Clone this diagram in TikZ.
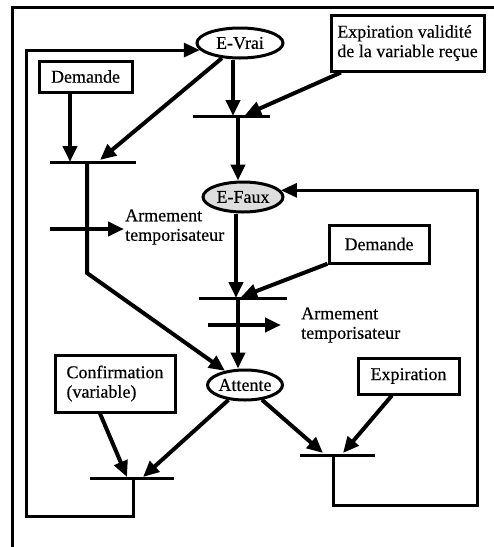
\documentclass[tikz,border=0pt]{standalone}
\usepackage{fontspec}
\setmainfont{Liberation Serif}
\newfontfamily\diagfont[FakeBold=0.35]{Liberation Serif}
\usetikzlibrary{shapes.geometric,arrows.meta}
\begin{document}
\begin{tikzpicture}[x=1pt,y=-1pt,
  every node/.style={font=\diagfont\fontsize{18}{19.5}\selectfont, inner sep=0pt},
  place/.style={ellipse, draw, line width=3pt},
  event/.style={rectangle, draw, line width=3pt, align=left},
  arr/.style={line width=4pt, -{Triangle[length=16pt,width=14pt]}},
  loopline/.style={line width=3pt, -{Triangle[length=16pt,width=14pt]}},
  bar/.style={line width=3pt},
  frameline/.style={line width=3pt},
  lbl/.style={align=left, anchor=west}]
\useasboundingbox (0,0) rectangle (494,547);
% outer frame
\draw[frameline] (12,547) -- (12,7) -- (494,7);
% places
\node[place, minimum width=86pt, minimum height=30pt] (evrai) at (240,43) {E-Vrai};
\node[place, minimum width=80pt, minimum height=30pt, fill=black!13] (efaux) at (243,197) {E-Faux};
\node[place, minimum width=72pt, minimum height=30pt] (attente) at (245,385) {Attente};
% events
\node[event, minimum width=153pt, minimum height=56pt] (expval) at (407.5,43) {Expiration validité\\de la variable reçue};
\node[event, minimum width=93pt, minimum height=31pt] (dem1) at (85.5,76.5) {Demande};
\node[event, minimum width=100pt, minimum height=38pt] (dem2) at (379,244) {Demande};
\node[event, minimum width=120pt, minimum height=57pt] (conf) at (115,383.5) {Confirmation\\(variable)};
\node[event, minimum width=101pt, minimum height=36pt] (expir) at (408.5,376) {Expiration};
% labels
\node[lbl] (arm1) at (125,227) {Armement\\temporisateur};
\node[lbl] (arm2) at (301,325) {Armement\\temporisateur};
% transition bars
\coordinate (t1l) at (193,116); \coordinate (t1r) at (270,116);
\coordinate (t2l) at (50,162);  \coordinate (t2r) at (136,162);
\coordinate (t3l) at (199,298); \coordinate (t3r) at (287,298);
\coordinate (t4l) at (90,478);  \coordinate (t4r) at (174,478);
\coordinate (t5l) at (300,455); \coordinate (t5r) at (375,455);
\draw[bar] (t1l) -- (t1r);
\draw[bar] (t2l) -- (t2r);
\draw[bar] (t3l) -- (t3r);
\draw[bar] (t4l) -- (t4r);
\draw[bar] (t5l) -- (t5r);
% connection points on bars
\coordinate (t1a) at (233,116); \coordinate (t1b) at (245,115); \coordinate (t1c) at (238,116);
\coordinate (t2a) at (70,162);  \coordinate (t2b) at (100,160); \coordinate (t2c) at (87,162);
\coordinate (t2k) at (87,273);
\coordinate (t3a) at (236,298); \coordinate (t3b) at (241,297); \coordinate (t3c) at (238,298);
\coordinate (t4a) at (127,477); \coordinate (t4b) at (143,477); \coordinate (t4c) at (133,478);
\coordinate (t5a) at (323,453); \coordinate (t5b) at (343,453); \coordinate (t5c) at (333,455);
\coordinate (a1s) at (50,229);  \coordinate (a1e) at (124,229);
\coordinate (a2s) at (208,325); \coordinate (a2e) at (281,325);
\coordinate (loopL) at (26,516);
\coordinate (loopR) at (477,505);
% connectors
\draw[arr] (evrai.south -| t1a) -- (t1a);
\draw[arr] (expval) -- (t1b);
\draw[arr] (t1c) -- (efaux.north -| t1c);
\draw[arr] (dem1.south -| t2a) -- (t2a);
\draw[arr] (evrai) -- (t2b);
\draw[arr] (t2c) -- (t2k) -- (attente);
\draw[arr] (a1s) -- (a1e);
\draw[arr] (efaux.south -| t3a) -- (t3a);
\draw[arr] (dem2) -- (t3b);
\draw[arr] (t3c) -- (attente.north -| t3c);
\draw[arr] (a2s) -- (a2e);
\draw[arr] ([xshift=-15pt]conf.south) -- (t4a);
\draw[arr] (attente) -- (t4b);
\draw[arr] (attente) -- (t5a);
\draw[arr] (expir) -- (t5b);
\draw[loopline] (t4c) |- (loopL) |- (evrai.190);
\draw[loopline] (t5c) |- (loopR) |- (efaux.10);
\end{tikzpicture}
\end{document}
